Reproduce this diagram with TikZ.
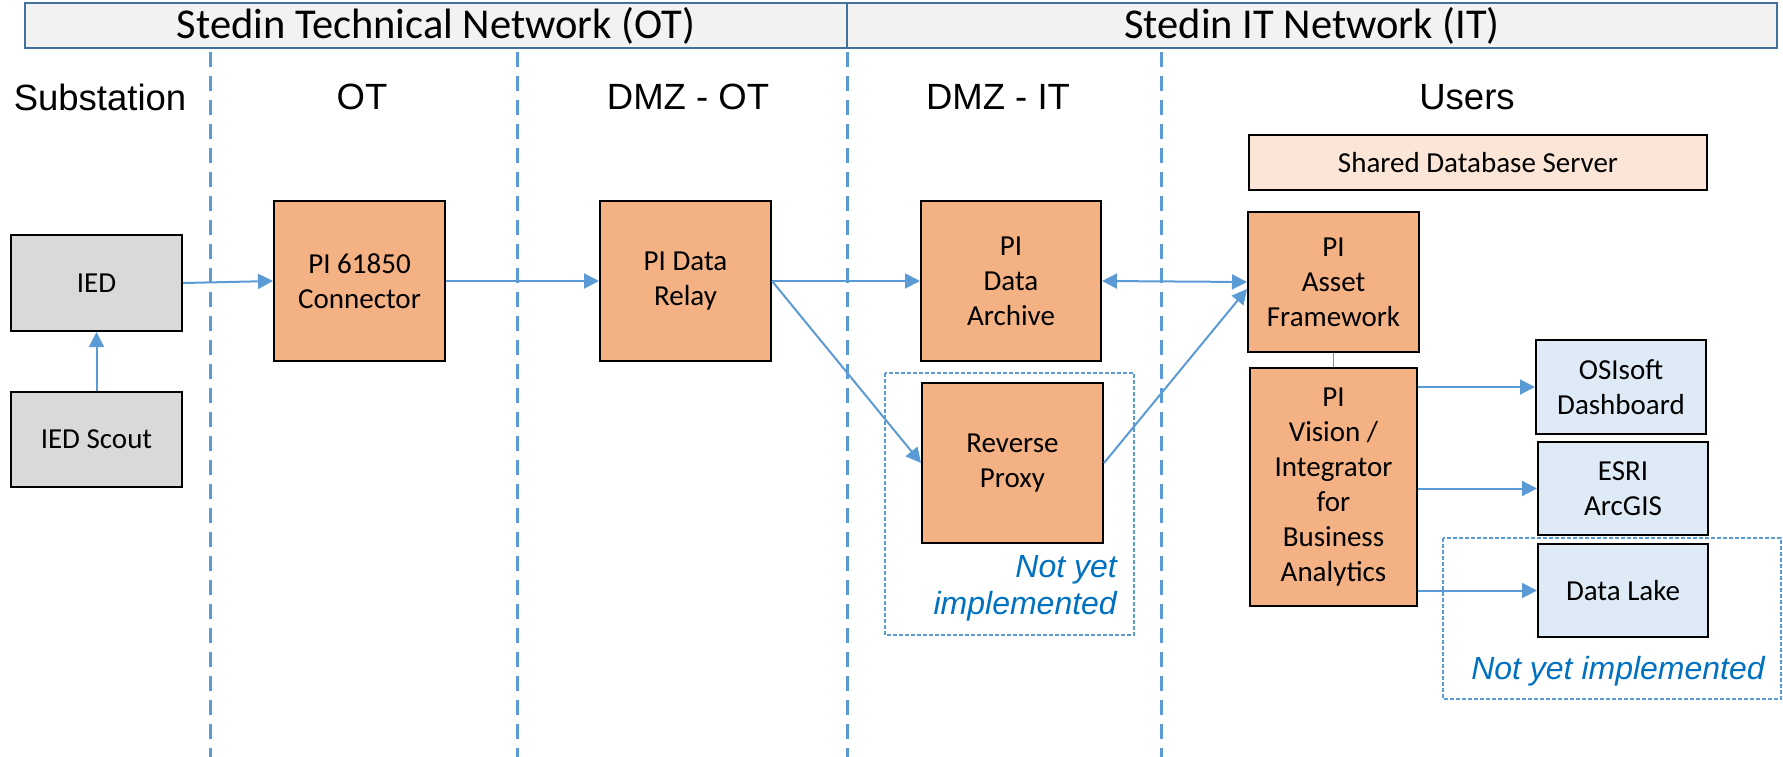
\documentclass[tikz,border=0pt]{standalone}
\usepackage{fontspec}
\setmainfont{Carlito}
\newfontfamily\arialfont{Liberation Sans}
\usetikzlibrary{arrows.meta,calc}
\definecolor{lineblue}{HTML}{5B9BD5}
\definecolor{hdrborder}{HTML}{41719C}
\definecolor{hdrfill}{HTML}{F2F2F2}
\definecolor{graybox}{HTML}{D9D9D9}
\definecolor{orangebox}{HTML}{F4B183}
\definecolor{peachbox}{HTML}{FBE5D6}
\definecolor{bluebox}{HTML}{DEEBF7}
\definecolor{notyet}{HTML}{0070C0}
\tikzset{
  hdr/.style={draw=hdrborder, fill=hdrfill, line width=2.5pt, inner sep=0pt,
    font=\fontsize{42.5}{50}\selectfont},
  collabel/.style={font=\arialfont\fontsize{36.5}{44}\selectfont, inner sep=0pt},
  sep/.style={draw=lineblue, line width=3pt, dash pattern=on 15pt off 9pt},
  basebox/.style={draw=black, line width=2pt, inner sep=0pt, align=center,
    font=\fontsize{29}{35}\selectfont},
  grayb/.style={basebox, fill=graybox},
  orangeb/.style={basebox, fill=orangebox},
  peachb/.style={basebox, fill=peachbox},
  blueb/.style={basebox, fill=bluebox},
  nyibox/.style={draw=lineblue, line width=1.3pt, dash pattern=on 4pt off 2pt},
  nyitext/.style={text=notyet, font=\arialfont\itshape\fontsize{32}{37}\selectfont, inner sep=0pt},
  arr/.style={draw=lineblue, line width=2pt, -{Triangle[length=15pt,width=15pt]}},
  darr/.style={draw=lineblue, line width=2pt, {Triangle[length=15pt,width=15pt]}-{Triangle[length=15pt,width=15pt]}},
  link/.style={draw=lineblue, line width=1.2pt}
}
\begin{document}
\begin{tikzpicture}[x=1pt,y=-1pt]
\useasboundingbox (0,0) rectangle (1783,757);

% header
\node[hdr, minimum width=822pt, minimum height=45pt] (hdrOT) at (436,25.5) {Stedin Technical Network (OT)};
\node[hdr, minimum width=930pt, minimum height=45pt] (hdrIT) at (1312,25.5) {Stedin IT Network (IT)};

% zone separators
\draw[sep] (210,52) -- (210,757);
\draw[sep] (517,52) -- (517,757);
\draw[sep] (847,52) -- (847,757);
\draw[sep] (1161,52) -- (1161,757);

% column labels
\node[collabel] (lSub) at (100,97) {Substation};
\node[collabel] (lOT) at (362,97) {OT};
\node[collabel] (lDMZOT) at (688,97) {DMZ - OT};
\node[collabel] (lDMZIT) at (998,97) {DMZ - IT};
\node[collabel] (lUsers) at (1467,97) {Users};

% not yet implemented boxes
\draw[nyibox] (885,373) rectangle (1134,635);
\draw[nyibox] (1443,538) rectangle (1781,699);
\node[nyitext, align=right, anchor=east] (nyi1) at (1117,588.5) {Not yet\\implemented};
\node[nyitext] (nyi2) at (1618,671) {Not yet implemented};

% boxes
\node[grayb, minimum width=171pt, minimum height=96pt] (ied) at (96.5,283) {IED};
\node[grayb, minimum width=171pt, minimum height=95pt] (scout) at (96.5,439.5) {IED Scout};
\node[orangeb, minimum width=171pt, minimum height=160pt] (conn) at (359.5,281) {PI 61850\\Connector};
\node[orangeb, minimum width=171pt, minimum height=160pt] (relay) at (685.5,281) {PI Data\\Relay};
\node[orangeb, minimum width=180pt, minimum height=160pt] (archive) at (1011,281) {PI\\Data\\Archive};
\node[orangeb, minimum width=181pt, minimum height=160pt] (proxy) at (1012.5,463) {Reverse\\Proxy};
\node[peachb, minimum width=458pt, minimum height=55pt] (shared) at (1478,162.5) {Shared Database Server};
\node[orangeb, minimum width=171pt, minimum height=140pt] (af) at (1333.5,282) {PI\\Asset\\Framework};
\node[orangeb, minimum width=167pt, minimum height=238pt] (vision) at (1333.5,487) {PI\\Vision /\\Integrator\\for\\Business\\Analytics};
\node[blueb, minimum width=170pt, minimum height=94pt] (osi) at (1621,387) {OSIsoft\\Dashboard};
\node[blueb, minimum width=170pt, minimum height=93pt] (esri) at (1623,488.5) {ESRI\\ArcGIS};
\node[blueb, minimum width=170pt, minimum height=93pt] (lake) at (1623,590.5) {Data Lake};

% connectors
\draw[arr] (ied.east) -- (conn.west);
\draw[arr] (scout.north) -- (ied.south);
\draw[arr] (conn.east) -- (relay.west);
\draw[arr] (relay.east) -- (archive.west);
\draw[arr] (relay.east) -- (proxy.west);
\draw[darr] (archive.east) -- (af.west);
\draw[arr] (proxy.east) -- ($(af.west)+(0,7)$);
\draw[link] (af.south) -- (vision.north);
\draw[arr] (vision.east |- osi.west) -- (osi.west);
\draw[arr] (vision.east |- esri.west) -- (esri.west);
\draw[arr] (vision.east |- lake.west) -- (lake.west);
\end{tikzpicture}
\end{document}
